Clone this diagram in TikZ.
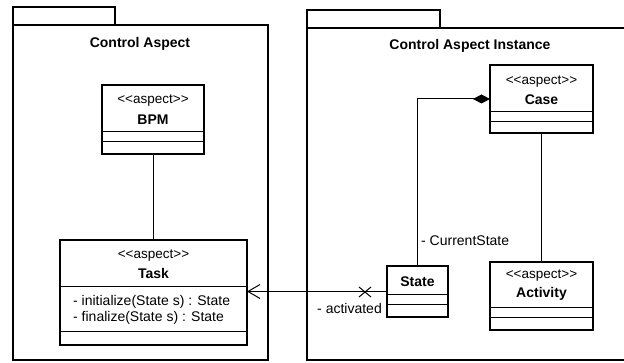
\documentclass[tikz,border=0pt]{standalone}
\usepackage{fontspec}
\setmainfont{Liberation Sans}
\usetikzlibrary{arrows.meta}
\newcommand\aspstereo{<\kern0pt<aspect>\kern0pt>}
\begin{document}
\begin{tikzpicture}[x=1pt,y=-1pt,
  pkg/.style={draw, line width=2pt},
  classbox/.style={draw, line width=2pt, rectangle, inner sep=0pt, outer sep=0pt, anchor=north west},
  comp/.style={line width=1pt},
  conn/.style={line width=1pt},
  stereo/.style={font=\fontsize{13.5}{15}\selectfont, inner sep=0pt, anchor=base},
  cname/.style={font=\fontsize{14}{16}\selectfont\bfseries, inner sep=0pt, anchor=base},
  lbl/.style={font=\fontsize{14}{16}\selectfont, inner sep=0pt},
  ptitle/.style={font=\fontsize{14}{16}\selectfont\bfseries, inner sep=0pt, anchor=base}]
\useasboundingbox (0,0) rectangle (624,363);
% packages
\draw[pkg] (13,7) rectangle (115,25);
\draw[pkg] (13,25) rectangle (268,360.5);
\node[ptitle] (t1) at (140,48) {Control Aspect};
\draw[pkg] (307,10) rectangle (440,28);
\draw[pkg] (630,28) -- (307,28) -- (307,360.5) -- (630,360.5);
\node[ptitle] (t2) at (470,50) {Control Aspect Instance};
% BPM
\node[classbox, minimum width=102pt, minimum height=69pt] (bpm) at (102,85) {};
\draw[comp] ([yshift=-47pt]bpm.north west) -- ([yshift=-47pt]bpm.north east);
\draw[comp] ([yshift=-57pt]bpm.north west) -- ([yshift=-57pt]bpm.north east);
\node[stereo] (bpms) at ([yshift=-19pt]bpm.north) {\aspstereo};
\node[cname] (bpmn) at ([yshift=-40pt]bpm.north) {BPM};
% Task
\node[classbox, minimum width=187pt, minimum height=105pt] (task) at (60,240) {};
\draw[comp] ([yshift=-47pt]task.north west) -- ([yshift=-47pt]task.north east);
\draw[comp] ([yshift=-92pt]task.north west) -- ([yshift=-92pt]task.north east);
\node[stereo] (tasks) at ([yshift=-18.5pt]task.north) {\aspstereo};
\node[cname] (taskn) at ([yshift=-38.5pt]task.north) {Task};
\node[lbl, anchor=base west] (op1) at ([xshift=13pt,yshift=-66pt]task.north west) {- initialize(State s) : State};
\node[lbl, anchor=base west] (op2) at ([xshift=13pt,yshift=-82pt]task.north west) {- finalize(State s) : State};
% Case
\node[classbox, minimum width=103pt, minimum height=68pt] (case) at (490,65) {};
\draw[comp] ([yshift=-47pt]case.north west) -- ([yshift=-47pt]case.north east);
\draw[comp] ([yshift=-57pt]case.north west) -- ([yshift=-57pt]case.north east);
\node[stereo] (cases) at ([yshift=-19.5pt]case.north) {\aspstereo};
\node[cname] (casen) at ([yshift=-40pt]case.north) {Case};
% Activity
\node[classbox, minimum width=103pt, minimum height=68pt] (act) at (490,262) {};
\draw[comp] ([yshift=-46pt]act.north west) -- ([yshift=-46pt]act.north east);
\draw[comp] ([yshift=-56pt]act.north west) -- ([yshift=-56pt]act.north east);
\node[stereo] (acts) at ([yshift=-16.5pt]act.north) {\aspstereo};
\node[cname] (actn) at ([yshift=-35.5pt]act.north) {Activity};
% State
\node[classbox, minimum width=61pt, minimum height=51pt] (state) at (387,266) {};
\draw[comp] ([yshift=-29pt]state.north west) -- ([yshift=-29pt]state.north east);
\draw[comp] ([yshift=-39pt]state.north west) -- ([yshift=-39pt]state.north east);
\node[cname] (staten) at ([yshift=-21pt]state.north) {State};
% connectors
\draw[conn] (bpm.south) -- (bpm.south |- task.north);
\draw[conn] (case.south) -- (case.south |- act.north);
\draw[conn, -{Diamond[length=17pt,width=9pt]}] (state.north) |- (case.west);
\draw[conn, -{Straight Barb[length=12pt,width=14pt]}] (state.west) -- (state.west -| task.east);
\coordinate (xm) at (365,292);
\draw[conn] ([shift={(-6,-5)}]xm) -- ([shift={(6,5)}]xm);
\draw[conn] ([shift={(-6,5)}]xm) -- ([shift={(6,-5)}]xm);
\node[lbl, anchor=base west] (cs) at (421,246) {- CurrentState};
\node[lbl, anchor=base east] (av) at (382,313.5) {- activated};
\end{tikzpicture}
\end{document}
